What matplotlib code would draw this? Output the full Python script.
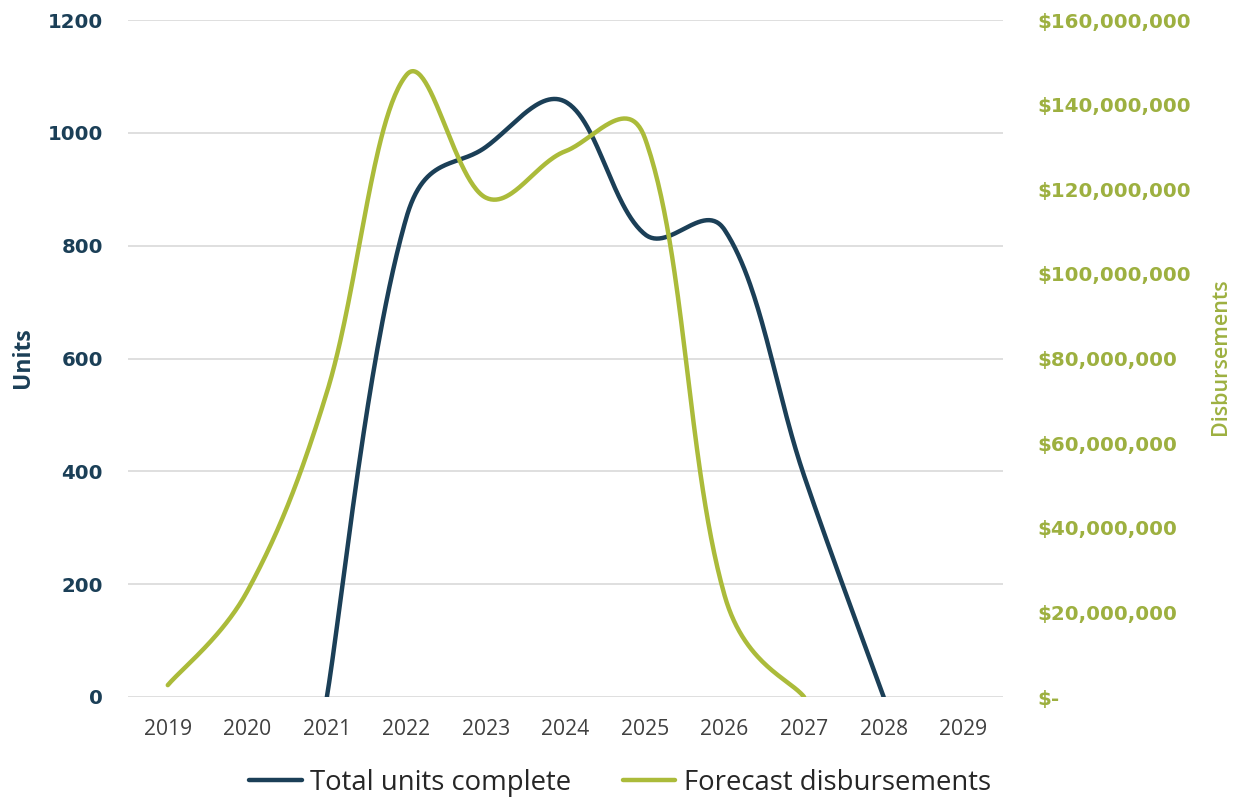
import numpy as np
import matplotlib
matplotlib.use("Agg")
import matplotlib.pyplot as plt
from matplotlib.ticker import FuncFormatter, MultipleLocator

years = ["2019", "2020", "2021", "2022", "2023", "2024", "2025", "2026", "2027", "2028", "2029"]
units_years = ["2021", "2022", "2023", "2024", "2025", "2026", "2027", "2028"]
units_values = [0, 850, 975, 1055, 820, 828, 392, 0]
disb_years = ["2019", "2020", "2021", "2022", "2023", "2024", "2025", "2026", "2027"]
disb_values = [2.8e6, 25e6, 72e6, 147e6, 118e6, 129e6, 132e6, 24e6, 0]

NAVY = "#1B3F57"
GREEN = "#ABBB3A"
GREEN_TXT = "#9DB040"
plt.rcParams['font.family'] = ['Open Sans', 'DejaVu Sans']

W, H = 1233, 801
AX_L, AX_B, AX_W, AX_H = 128, 104, 875, 677  # pixels (bottom measured from bottom)


def smooth(xs, ys, sx, sy, t=0.36, n=60):
    """Smoothed line: Bezier segments with control arms weighted by the
    square root of neighbouring segment lengths in screen (pixel) space."""
    P = np.column_stack([np.asarray(xs, float) * sx, np.asarray(ys, float) * sy])
    m = len(P)
    outx, outy = [], []
    tt = np.linspace(0, 1, n)
    for i in range(m - 1):
        p0 = P[i - 1] if i > 0 else P[i]
        p1, p2 = P[i], P[i + 1]
        p3 = P[i + 2] if i + 2 < m else P[i + 1]
        w01 = np.hypot(*(p1 - p0)) ** 0.5
        w12 = np.hypot(*(p2 - p1)) ** 0.5
        w23 = np.hypot(*(p3 - p2)) ** 0.5
        c1 = p1 + t * (w12 / (w01 + w12)) * (p2 - p0) if i > 0 else p1 + t * 0.5 * (p2 - p1)
        c2 = p2 - t * (w12 / (w12 + w23)) * (p3 - p1) if i + 2 < m else p2 - t * 0.5 * (p2 - p1)
        b = ((1 - tt) ** 3)[:, None] * p1 + (3 * (1 - tt) ** 2 * tt)[:, None] * c1 + \
            (3 * (1 - tt) * tt ** 2)[:, None] * c2 + (tt ** 3)[:, None] * p2
        outx.extend(b[:, 0] / sx); outy.extend(b[:, 1] / sy)
    return np.array(outx), np.array(outy)


fig = plt.figure(figsize=(W / 100, H / 100), dpi=100)
ax = fig.add_axes([AX_L / W, AX_B / H, AX_W / W, AX_H / H])
ax2 = ax.twinx()

xi_u = [years.index(y) for y in units_years]
xi_d = [years.index(y) for y in disb_years]
px_per_cat = AX_W / len(years)

sx_, sy_ = smooth(xi_u, units_values, px_per_cat, AX_H / 1200)
l1, = ax.plot(sx_, sy_, color=NAVY, lw=3.2, solid_capstyle='round', label="Total units complete", zorder=3)
dx_, dy_ = smooth(xi_d, disb_values, px_per_cat, AX_H / 160e6)
l2, = ax2.plot(dx_, dy_, color=GREEN, lw=3.2, solid_capstyle='round', label="Forecast disbursements", zorder=3)

ax.set_xlim(-0.5, len(years) - 0.5)
ax.set_ylim(0, 1200)
ax2.set_ylim(0, 160e6)
ax.yaxis.set_major_locator(MultipleLocator(200))
ax2.yaxis.set_major_locator(MultipleLocator(20e6))
ax.set_xticks(range(len(years)))
ax.set_xticklabels(years)

ax.grid(axis='y', color='#DCDCDC', lw=1.3)
ax.set_axisbelow(True)
for a in (ax, ax2):
    for s in a.spines.values():
        s.set_visible(False)
    a.tick_params(length=0)

ax.tick_params(axis='y', labelcolor=NAVY, pad=18)
for lab in ax.get_yticklabels():
    lab.set_fontfamily('DejaVu Sans'); lab.set_fontweight('bold'); lab.set_fontsize(14.2)
ax.tick_params(axis='x', labelsize=15.2, labelcolor='#404040', pad=16)

ax2.yaxis.set_major_formatter(FuncFormatter(lambda v, p: "$-" if v == 0 else "${:,.0f}".format(v)))
ax2.tick_params(axis='y', labelcolor=GREEN_TXT, pad=25)
for lab in ax2.get_yticklabels():
    lab.set_fontfamily('DejaVu Sans'); lab.set_fontweight('bold'); lab.set_fontsize(14.3)

fig.text(23 / W, 1 - 358 / H, "Units", rotation=90, ha='center', va='center',
         fontsize=16.5, fontweight='bold', color=NAVY)
fig.text(1221 / W, 1 - 357 / H, "Disbursements", rotation=90, ha='center', va='center',
         fontsize=15.5, fontweight='semibold', color=GREEN_TXT)

fig.legend(handles=[l1, l2], loc='center', bbox_to_anchor=(620 / W, 1 - 783 / H), ncol=2,
           frameon=False, fontsize=19.8, handlelength=1.9, handletextpad=0.3, columnspacing=1.9,
           labelcolor='#262626')

fig.savefig("out.png", dpi=100, facecolor='white')
